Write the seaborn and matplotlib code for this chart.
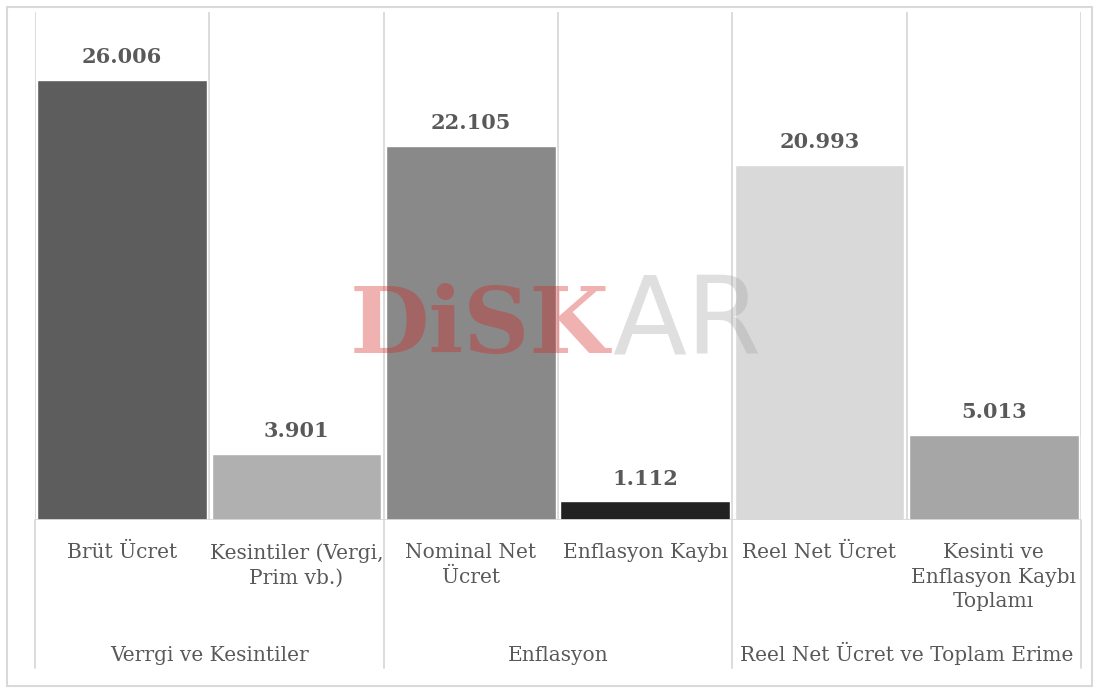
import seaborn as sns
import pandas as pd
import matplotlib.pyplot as plt
import matplotlib.transforms as mtransforms
from matplotlib.patches import Rectangle

categories = ["Brüt Ücret", "Kesintiler (Vergi,\nPrim vb.)", "Nominal Net\nÜcret",
              "Enflasyon Kaybı", "Reel Net Ücret", "Kesinti ve\nEnflasyon Kaybı\nToplamı"]
values = [26006, 3901, 22105, 1112, 20993, 5013]
groups = ["Verrgi ve Kesintiler", "Enflasyon", "Reel Net Ücret ve Toplam Erime"]
bar_colors = ["#5d5d5d", "#b0b0b0", "#898989", "#222222", "#d9d9d9", "#a6a6a6"]

df = pd.DataFrame({"kategori": categories, "deger": values})

sns.set_style("white")
plt.rcParams["font.family"] = ["DejaVu Serif"]

fig = plt.figure(figsize=(10.99, 6.93), dpi=100)
ax = fig.add_axes([35 / 1099, 1 - 520 / 693, 1046 / 1099, 508 / 693])

sns.barplot(data=df, x="kategori", y="deger", hue="kategori", palette=bar_colors,
            legend=False, width=0.975, saturation=1, ax=ax, zorder=2)

ax.set_ylim(0, 30000)
ax.set_xlim(-0.5, len(categories) - 0.5)
ax.set_xlabel("")
ax.set_ylabel("")
ax.set_xticks([])
ax.set_yticks([])
for s in ax.spines.values():
    s.set_visible(False)

grid_c = "#d9d9d9"
# vertical grid lines between categories
for i in range(len(categories) + 1):
    ax.axvline(i - 0.5, color=grid_c, lw=1.3, zorder=1)
ax.axhline(0, color=grid_c, lw=1.3, zorder=3)

# value labels
for i, v in enumerate(values):
    ax.annotate(f"{v:,}".replace(",", "."), (i, v), xytext=(0, 12), textcoords="offset points",
                ha="center", va="baseline", fontsize=15, fontweight="bold", color="#595959")

# category and group labels under the axis
trans = mtransforms.blended_transform_factory(ax.transData, fig.transFigure)
for i, c in enumerate(categories):
    ax.text(i, 1 - 543 / 693, c, transform=trans, ha="center", va="top", fontsize=14.5,
            color="#595959", linespacing=1.38)
for g, name in enumerate(groups):
    ax.text(2 * g + 0.5, 1 - 661 / 693, name, transform=trans, ha="center", va="baseline",
            fontsize=14.5, color="#595959")
for b in [-0.5, 1.5, 3.5, 5.5]:
    ax.plot([b, b], [1 - 520 / 693, 1 - 668 / 693], transform=trans, color=grid_c, lw=1.3,
            clip_on=False)

# watermark
fig.text(350 / 1099, 1 - 353 / 693, "DiSK", fontsize=66, fontweight="bold", color="#d62020",
         alpha=0.35, ha="left", va="baseline", zorder=5)
fig.text(612 / 1099, 1 - 353 / 693, "AR", family="DejaVu Sans", fontsize=78, color="#a0a0a0",
         alpha=0.33, ha="left", va="baseline", zorder=5)

# outer border
fig.patches.append(Rectangle((7 / 1099, 7 / 693), 1085 / 1099, 679 / 693, transform=fig.transFigure,
                             fill=False, edgecolor=grid_c, lw=1.5))

fig.savefig("out.png", dpi=100)
